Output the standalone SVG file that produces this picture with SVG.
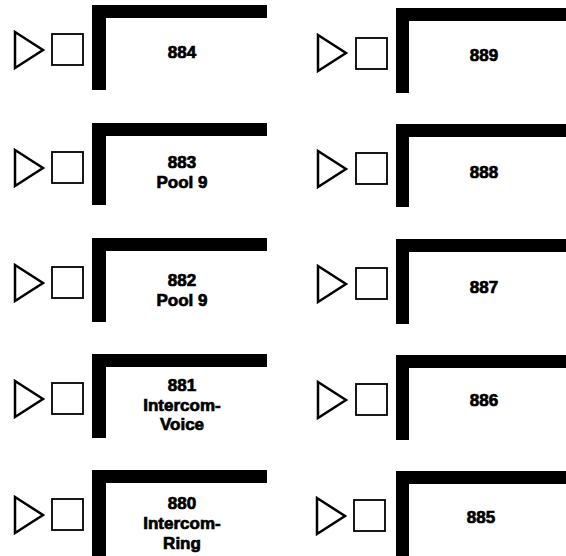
<svg xmlns="http://www.w3.org/2000/svg" width="566" height="556" viewBox="0 0 566 556">
<style>
.tri{fill:#fff;stroke:#000;stroke-width:2.5;stroke-linejoin:miter}
.sq{fill:#fff;stroke:#000;stroke-width:1.8}
.br{fill:#000}
.lb{font-family:"Liberation Sans",Arial,sans-serif;font-weight:bold;font-size:17px;fill:#000;stroke:#000;stroke-width:0.7;text-anchor:middle}
</style>
<rect width="566" height="556" fill="#fff"/>
<g id="k884">
<polygon class="tri" points="15,32 43,50 15,68"/>
<rect class="sq" x="52" y="34" width="31" height="31"/>
<path class="br" d="M92,5 H267 V18 H106 V90 H92 Z"/>
<text class="lb" x="182" y="58">884</text>
</g>
<g id="k883">
<polygon class="tri" points="15,150 43,168 15,186"/>
<rect class="sq" x="52" y="152" width="31" height="31"/>
<path class="br" d="M92,123 H267 V136 H106 V205 H92 Z"/>
<text class="lb" x="182" y="168">883<tspan x="182" dy="20">Pool 9</tspan></text>
</g>
<g id="k882">
<polygon class="tri" points="15,265 43,283 15,301"/>
<rect class="sq" x="52" y="267" width="31" height="31"/>
<path class="br" d="M92,238 H267 V251 H106 V322 H92 Z"/>
<text class="lb" x="182" y="286">882<tspan x="182" dy="20">Pool 9</tspan></text>
</g>
<g id="k881">
<polygon class="tri" points="15,381 43,399 15,417"/>
<rect class="sq" x="52" y="383" width="31" height="31"/>
<path class="br" d="M92,354 H267 V367 H106 V438 H92 Z"/>
<text class="lb" x="182" y="391">881<tspan x="182" dy="20">Intercom-</tspan><tspan x="182" dy="19">Voice</tspan></text>
</g>
<g id="k880">
<polygon class="tri" points="15,497 43,515 15,533"/>
<rect class="sq" x="52" y="499" width="31" height="31"/>
<path class="br" d="M92,470 H267 V483 H106 V556 H92 Z"/>
<text class="lb" x="182" y="509">880<tspan x="182" dy="20">Intercom-</tspan><tspan x="182" dy="20">Ring</tspan></text>
</g>
<g id="k889">
<polygon class="tri" points="318,35 346,53 318,71"/>
<rect class="sq" x="356" y="38" width="31" height="31"/>
<path class="br" d="M396,8 H566 V21 H409 V93 H396 Z"/>
<text class="lb" x="484" y="61">889</text>
</g>
<g id="k888">
<polygon class="tri" points="318,151 346,169 318,187"/>
<rect class="sq" x="356" y="153" width="31" height="31"/>
<path class="br" d="M396,124 H566 V137 H409 V207 H396 Z"/>
<text class="lb" x="484" y="178">888</text>
</g>
<g id="k887">
<polygon class="tri" points="318,266 346,284 318,302"/>
<rect class="sq" x="356" y="268" width="31" height="31"/>
<path class="br" d="M396,239 H566 V252 H409 V324 H396 Z"/>
<text class="lb" x="484" y="293">887</text>
</g>
<g id="k886">
<polygon class="tri" points="318,382 346,400 318,418"/>
<rect class="sq" x="356" y="384" width="31" height="31"/>
<path class="br" d="M396,355 H566 V368 H409 V440 H396 Z"/>
<text class="lb" x="484" y="406">886</text>
</g>
<g id="k885">
<polygon class="tri" points="317,498 345,516 317,534"/>
<rect class="sq" x="354" y="500" width="31" height="31"/>
<path class="br" d="M396,471 H566 V484 H409 V556 H396 Z"/>
<text class="lb" x="481" y="523">885</text>
</g>
<g id="connectors"></g>
</svg>
